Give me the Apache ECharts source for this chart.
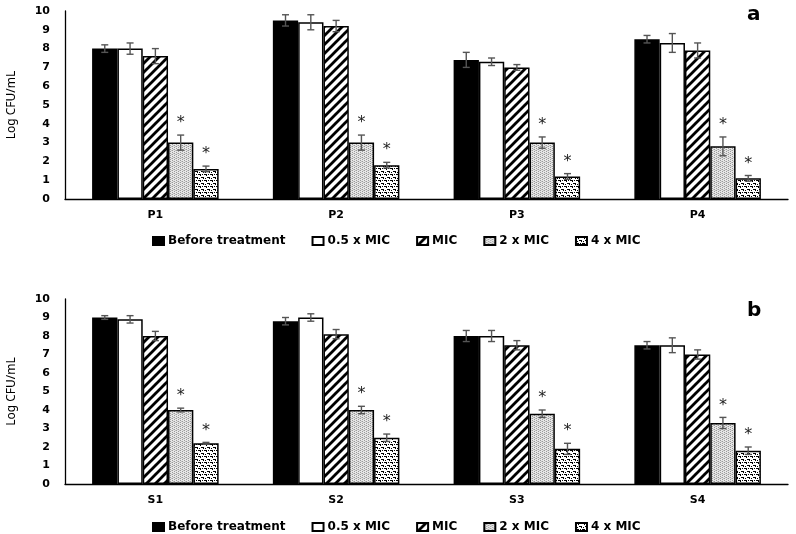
<!DOCTYPE html>
<html>
<head>
<meta charset="utf-8">
<script src="https://cdn.jsdelivr.net/npm/echarts@6/dist/echarts.min.js"></script>
<style>html,body{margin:0;padding:0;background:#fff}#c{width:796px;height:534px}</style>
</head>
<body>
<div id="c"></div>
<script>
// ---- data ----
const categoriesA = ['P1', 'P2', 'P3', 'P4'];
const categoriesB = ['S1', 'S2', 'S3', 'S4'];
const seriesNames = ['Before treatment', '0.5 x MIC', 'MIC', '2 x MIC', '4 x MIC'];
const yTicks = [0, 1, 2, 3, 4, 5, 6, 7, 8, 9, 10];

// panel a
const beforeA = [8.0, 9.5, 7.4, 8.5];
const beforeAErr = [0.2, 0.3, 0.4, 0.2];
const halfMicA = [8.0, 9.4, 7.3, 8.3];
const halfMicAErr = [0.3, 0.4, 0.2, 0.5];
const micA = [7.6, 9.2, 7.0, 7.9];
const micAErr = [0.4, 0.3, 0.15, 0.4];
const twoMicA = [3.0, 3.0, 3.0, 2.8];
const twoMicAErr = [0.4, 0.4, 0.3, 0.5];
const fourMicA = [1.6, 1.8, 1.2, 1.1];
const fourMicAErr = [0.15, 0.15, 0.15, 0.15];

// panel b
const beforeB = [9.0, 8.8, 8.0, 7.5];
const beforeBErr = [0.1, 0.2, 0.3, 0.2];
const halfMicB = [8.9, 9.0, 8.0, 7.5];
const halfMicBErr = [0.2, 0.2, 0.3, 0.4];
const micB = [8.0, 8.1, 7.5, 7.0];
const micBErr = [0.25, 0.25, 0.25, 0.25];
const twoMicB = [4.0, 4.0, 3.8, 3.3];
const twoMicBErr = [0.1, 0.2, 0.2, 0.3];
const fourMicB = [2.2, 2.5, 1.9, 1.8];
const fourMicBErr = [0.05, 0.2, 0.3, 0.2];

// significance markers (per series index)
const significant = [false, false, false, true, true];

// ---- patterns ----
function makePattern(w, h, draw) {
  const cv = document.createElement('canvas');
  cv.width = w; cv.height = h;
  const ctx = cv.getContext('2d');
  ctx.fillStyle = '#fff';
  ctx.fillRect(0, 0, w, h);
  draw(ctx);
  return { image: cv, repeat: 'repeat' };
}
const stripePattern = makePattern(9, 9, ctx => {
  ctx.strokeStyle = '#000';
  ctx.lineWidth = 2.8;
  ctx.beginPath();
  ctx.moveTo(-1, 10); ctx.lineTo(10, -1);
  ctx.moveTo(-6, 6); ctx.lineTo(6, -6);
  ctx.moveTo(3, 15); ctx.lineTo(15, 3);
  ctx.stroke();
});
const dotPattern = makePattern(4, 4, ctx => {
  ctx.fillStyle = '#e6e6e6';
  ctx.fillRect(0, 0, 4, 4);
  ctx.fillStyle = '#9a9a9a';
  ctx.fillRect(0, 0, 1, 1); ctx.fillRect(0, 2, 1, 1);
  ctx.fillRect(2, 1, 1, 1); ctx.fillRect(2, 3, 1, 1);
  ctx.fillStyle = '#c4c4c4';
  ctx.fillRect(1, 1, 1, 1); ctx.fillRect(3, 2, 1, 1);
});
const zigPattern = makePattern(6, 6, ctx => {
  ctx.fillStyle = '#000';
  ctx.fillRect(0, 0, 3, 1); ctx.fillRect(2, 1, 1, 1);
  ctx.fillRect(3, 3, 3, 1); ctx.fillRect(5, 4, 1, 1);
  ctx.fillRect(1, 4, 1, 1);
  ctx.fillRect(4, 0, 1, 1);
});
const fills = ['#000', '#fff', stripePattern, dotPattern, zigPattern];

const panelA = [[beforeA, beforeAErr], [halfMicA, halfMicAErr], [micA, micAErr], [twoMicA, twoMicAErr], [fourMicA, fourMicAErr]];
const panelB = [[beforeB, beforeBErr], [halfMicB, halfMicBErr], [micB, micBErr], [twoMicB, twoMicBErr], [fourMicB, fourMicBErr]];

const CAT_GAP = 0.3;
const FONT = 'DejaVu Sans';

function buildSeries(panel, axisIdx) {
  const out = [];
  panel.forEach((pair, i) => {
    out.push({
      type: 'bar',
      name: seriesNames[i],
      xAxisIndex: axisIdx, yAxisIndex: axisIdx,
      data: pair[0],
      barGap: '0%',
      barCategoryGap: (CAT_GAP * 100) + '%',
      itemStyle: { color: fills[i], borderColor: '#000', borderWidth: 1.5 },
      emphasis: { disabled: true },
      z: 2
    });
  });
  panel.forEach((pair, i) => {
    out.push({
      type: 'custom',
      name: 'err' + axisIdx + '_' + i,
      xAxisIndex: axisIdx, yAxisIndex: axisIdx,
      data: pair[0].map((v, k) => [k, v, pair[1][k]]),
      z: 5,
      silent: true,
      renderItem: function (params, api) {
        const x = api.value(0), v = api.value(1), e = api.value(2);
        const band = api.size([1, 0])[0];
        const bw = band * (1 - CAT_GAP) / 5;
        const base = api.coord([x, v]);
        const cx = base[0] + (i - 2) * bw;
        const top = api.coord([x, v + e])[1];
        const bot = api.coord([x, v - e])[1];
        const st = { stroke: '#555', lineWidth: 1.4 };
        const children = [
          { type: 'line', shape: { x1: cx, y1: top, x2: cx, y2: bot }, style: st },
          { type: 'line', shape: { x1: cx - 3.5, y1: top, x2: cx + 3.5, y2: top }, style: st },
          { type: 'line', shape: { x1: cx - 3.5, y1: bot, x2: cx + 3.5, y2: bot }, style: st }
        ];
        if (significant[i]) {
          children.push({
            type: 'text',
            style: { text: '*', x: cx, y: top - 12, fill: '#222', font: '16px "DejaVu Sans"', align: 'center', verticalAlign: 'middle' }
          });
        }
        return { type: 'group', children };
      }
    });
  });
  return out;
}

const chart = echarts.init(document.getElementById('c'), null, { renderer: 'canvas' });

const yAxisBase = {
  type: 'value', min: yTicks[0], max: yTicks[yTicks.length - 1], interval: 1,
  name: 'Log CFU/mL', nameLocation: 'middle', nameGap: 47,
  nameTextStyle: { fontFamily: 'Noto Sans', fontSize: 12, color: '#000' },
  axisLine: { show: true, lineStyle: { color: '#000', width: 1.3 } },
  axisTick: { show: false },
  splitLine: { show: false },
  axisLabel: { fontFamily: FONT, fontWeight: 'bold', fontSize: 11, color: '#000', margin: 15 }
};
const xAxisBase = {
  type: 'category',
  axisLine: { lineStyle: { color: '#000', width: 1.3 } },
  axisTick: { show: false },
  axisLabel: { fontFamily: FONT, fontWeight: 'bold', fontSize: 11, color: '#000', margin: 11 }
};
const legendBase = {
  data: seriesNames,
  left: 147,
  itemWidth: 11, itemHeight: 8, itemGap: 26,
  icon: 'rect',
  selectedMode: false,
  textStyle: { fontFamily: FONT, fontWeight: 'bold', fontSize: 12, color: '#000', padding: [0, 0, 0, -1] }
};

chart.setOption({
  animation: false,
  backgroundColor: '#fff',
  title: [
    { text: 'a', left: 742, top: 0, textStyle: { fontFamily: FONT, fontWeight: 'bold', fontSize: 20, color: '#000' } },
    { text: 'b', left: 742, top: 296, textStyle: { fontFamily: FONT, fontWeight: 'bold', fontSize: 20, color: '#000' } }
  ],
  legend: [
    Object.assign({}, legendBase, { top: 230 }),
    Object.assign({}, legendBase, { top: 516 })
  ],
  grid: [
    { left: 65, right: 8, top: 11, bottom: 335, outerBoundsMode: 'none' },
    { left: 65, right: 8, top: 299, bottom: 50, outerBoundsMode: 'none' }
  ],
  xAxis: [
    Object.assign({}, xAxisBase, { gridIndex: 0, data: categoriesA }),
    Object.assign({}, xAxisBase, { gridIndex: 1, data: categoriesB })
  ],
  yAxis: [
    Object.assign({}, yAxisBase, { gridIndex: 0 }),
    Object.assign({}, yAxisBase, { gridIndex: 1 })
  ],
  series: buildSeries(panelA, 0).concat(buildSeries(panelB, 1))
});
</script>
</body>
</html>
